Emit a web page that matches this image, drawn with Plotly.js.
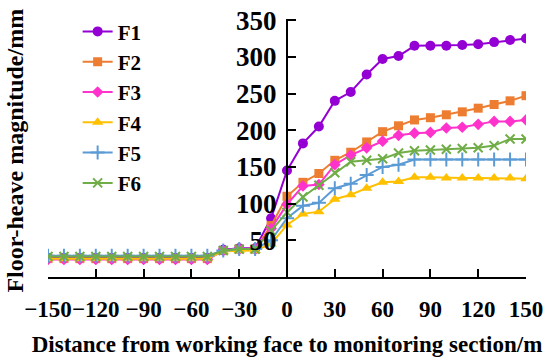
<!DOCTYPE html>
<html>
<head>
<meta charset="utf-8">
<script src="https://cdn.plot.ly/plotly-3.0.1.min.js"></script>
<style>html,body{margin:0;padding:0;background:#fff;}#chart{width:550px;height:362px;}</style>
</head>
<body>
<div id="chart"></div>
<script>
var distance = [-150,-140,-130,-120,-110,-100,-90,-80,-70,-60,-50,-40,-30,-20,-10,0,10,20,30,40,50,60,70,80,90,100,110,120,130,140,150];
var F1 = [26,26,26,26,26,26,26,26,26,26,26,37,39,39,80,145,182,205,240,252,276,297,301,315,315,315,316,317,320,323,325];
var F2 = [25,25,25,25,25,25,25,25,25,25,25,36,38,38,70,110,129,141,159,170,184,198,206,214,217,221,225,230,235,240,247];
var F3 = [24,24,24,24,24,24,24,24,24,24,24,36,38,38,66,99,124,126,153,166,176,185,193,196,197,203,204,208,212,212,214];
var F4 = [25,25,25,25,25,25,25,25,25,25,25,35,36,36,45,71,86,89,106,112,121,129,130,136,136,135,135,135,135,135,134];
var F5 = [29,29,29,29,29,29,29,29,29,29,29,36,38,38,50,80,97,101,121,127,139,150,153,160,160,160,160,160,160,160,160];
var F6 = [28,28,28,28,28,28,28,28,28,28,28,36,38,38,63,88,109,125,142,157,159,161,169,172,173,174,175,176,179,188,188];
var seriesNames = ["F1","F2","F3","F4","F5","F6"];
var xTicks = [-150,-120,-90,-60,-30,0,30,60,90,120,150];
var yTicks = [50,100,150,200,250,300,350];

var colors = ["#9400D3","#ED7D31","#FF33CC","#FFC000","#5B9BD5","#70AD47"];
var symbols = ["circle","square","diamond","triangle-up","cross-thin","x-thin"];
var sizes = [10,9,9,10,10,9];
var data = [F1,F2,F3,F4,F5,F6];
var traces = data.map(function(y,i){
  return {
    x: distance, y: y, name: seriesNames[i], type: "scatter", mode: "lines+markers",
    line: {color: colors[i], width: 2},
    marker: {symbol: symbols[i], size: sizes[i], color: colors[i], line: {color: colors[i], width: (i>=4?2:0)}}
  };
});
var fam = "Liberation Serif, Times New Roman, serif";
var layout = {
  width: 550, height: 362,
  margin: {l: 48, r: 24, t: 11, b: 85},
  paper_bgcolor: "#fff", plot_bgcolor: "#fff",
  showlegend: true,
  font: {family: fam, color: "#000", weight: "bold"},
  legend: {x: 0.062, y: 1.03, xanchor: "left", yanchor: "top", bgcolor: "rgba(0,0,0,0)",
           maxheight: 320,
           font: {family: fam, size: 21, color: "#000", weight: "bold"}, tracegroupgap: 0},
  xaxis: {
    range: [-150,150], tickvals: xTicks, ticktext: xTicks.map(function(v){return v<0?"\u2212"+(-v):String(v);}),
    tickangle: 0,
    ticks: "inside", ticklen: 8, tickwidth: 2, tickcolor: "#000",
    showline: true, linewidth: 2, linecolor: "#000", showgrid: false, zeroline: false,
    tickfont: {family: fam, size: 23, color: "#000", weight: "bold"},
    ticklabelstandoff: 10,
    title: {text: "Distance from working face to monitoring section/m", standoff: 15,
            font: {family: fam, size: 23, color: "#000", weight: "bold"}}
  },
  yaxis: {
    range: [0,351.5], tickvals: yTicks, anchor: "free", position: 0.5,
    ticks: "inside", ticklen: 8, tickwidth: 2, tickcolor: "#000",
    showline: true, linewidth: 2, linecolor: "#000", showgrid: false, zeroline: false,
    tickfont: {family: fam, size: 27, color: "#000", weight: "bold"},
    ticklabelstandoff: 4, ticklabeloverflow: "allow"
  },
  annotations: [{
    text: "Floor-heave magnitude/mm", textangle: -90, xref: "paper", yref: "paper",
    x: -0.069, y: 0.49, xanchor: "center", yanchor: "middle", showarrow: false,
    font: {family: fam, size: 24, color: "#000", weight: "bold"}
  }]
};
Plotly.newPlot("chart", traces, layout, {displayModeBar: false, staticPlot: true});
</script>
</body>
</html>
